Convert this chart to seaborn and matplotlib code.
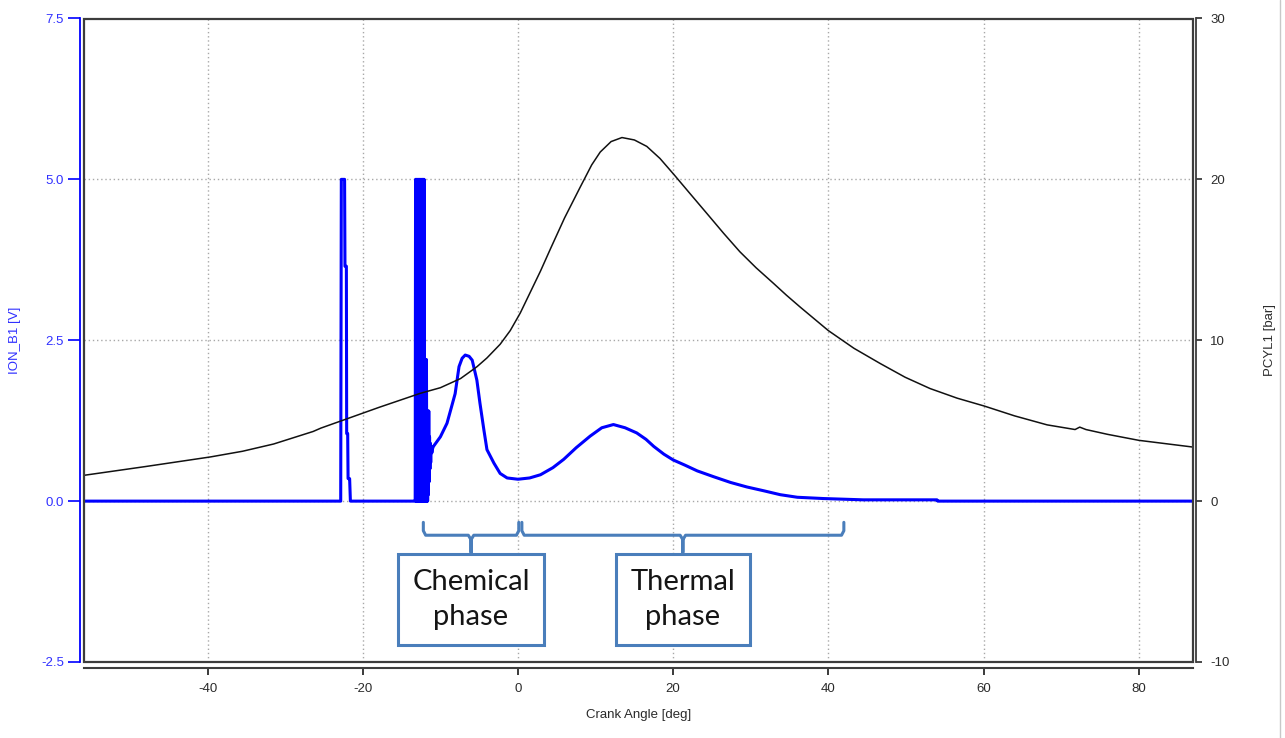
import numpy as np
import pandas as pd
import matplotlib
matplotlib.use("Agg")
import matplotlib.pyplot as plt
from matplotlib.patches import Rectangle
from matplotlib.lines import Line2D
import seaborn as sns

# ---------------- data ----------------
# cylinder pressure trace (bar) vs crank angle (deg)
pcyl_angle = [-56.0, -48.0, -39.6, -35.5, -31.5, -26.4, -25.4, -22.2, -17.9, -12.6,
              -10.0, -7.4, -5.3, -4.0, -2.3, -1.0, 0.3, 1.5, 2.9, 4.2,
              6.0, 8.0, 9.5, 10.6, 12.0, 13.4, 15.0, 16.6, 18.3, 20.1,
              22.2, 24.4, 26.5, 28.6, 30.7, 32.9, 34.6, 36.4, 40.0, 43.3,
              46.7, 49.9, 53.1, 56.6, 60.1, 64.0, 68.2, 71.8, 72.4, 73.2,
              76.0, 80.0, 87.0]
pcyl_bar = [1.60, 2.15, 2.75, 3.10, 3.55, 4.33, 4.54, 5.09, 5.83, 6.70,
            7.05, 7.62, 8.35, 8.90, 9.75, 10.60, 11.70, 12.90, 14.30, 15.70,
            17.60, 19.50, 20.90, 21.70, 22.35, 22.60, 22.45, 22.05, 21.30, 20.30,
            19.10, 17.85, 16.65, 15.50, 14.50, 13.55, 12.80, 12.05, 10.60, 9.50,
            8.55, 7.70, 7.00, 6.40, 5.91, 5.30, 4.74, 4.45, 4.60, 4.45,
            4.15, 3.78, 3.36]

# ion current signal (V): baseline and first spike
ion_pre_angle = [-56.0, -22.85, -22.77, -22.35, -22.30, -22.12, -22.08, -21.95,
                 -21.90, -21.70, -21.60, -13.30]
ion_pre_volts = [0.0, 0.0, 5.0, 5.0, 3.65, 3.65, 1.05, 1.05,
                 0.35, 0.35, 0.0, 0.0]

# ringing burst at the start of combustion
burst_angle = [-13.25, -13.20, -13.15, -13.10, -13.05, -13.00, -12.95, -12.90,
               -12.85, -12.80, -12.75, -12.70, -12.65, -12.60, -12.55, -12.50,
               -12.45, -12.40, -12.35, -12.30, -12.25, -12.20, -12.15, -12.10,
               -12.05, -12.00, -11.95, -11.90, -11.85, -11.80, -11.75, -11.70,
               -11.65, -11.60, -11.55, -11.50, -11.45, -11.40, -11.35, -11.30,
               -11.25, -11.20, -11.10, -11.00]
burst_volts = [0.0, 5.0, 0.0, 5.0, 0.0, 5.0, 0.0, 5.0,
               0.0, 5.0, 0.0, 5.0, 0.0, 5.0, 0.0, 5.0,
               0.0, 5.0, 0.0, 5.0, 0.0, 5.0, 0.0, 5.0,
               0.0, 2.2, 0.0, 2.2, 0.0, 2.2, 0.0, 1.4,
               0.0, 1.4, 0.1, 1.4, 0.3, 1.0, 0.5, 0.9,
               0.6, 0.85, 0.75, 0.82]

# chemical and thermal ionisation peaks
ion_post_angle = [-10.9, -10.0, -9.15, -8.6, -8.1, -7.6, -7.2, -6.8, -6.3, -5.9,
                  -5.3, -4.9, -4.4, -4.0, -3.1, -2.3, -1.4, 0.0, 1.5, 2.9,
                  4.5, 5.9, 7.5, 9.3, 10.8, 12.3, 13.8, 15.3, 16.5, 17.5,
                  18.8, 20.0, 21.5, 23.1, 25.2, 27.4, 29.5, 31.7, 33.8, 36.0,
                  39.4, 44.5, 54.0, 54.1, 87.0]
ion_post_volts = [0.85, 1.00, 1.21, 1.45, 1.67, 2.09, 2.22, 2.27, 2.25, 2.19,
                  1.88, 1.52, 1.11, 0.80, 0.59, 0.43, 0.36, 0.34, 0.36, 0.41,
                  0.52, 0.65, 0.83, 1.01, 1.14, 1.19, 1.14, 1.06, 0.96, 0.85,
                  0.73, 0.64, 0.56, 0.47, 0.38, 0.29, 0.22, 0.16, 0.10, 0.06,
                  0.04, 0.02, 0.02, 0.0, 0.0]

# combustion phases (crank angle ranges)
phase_labels = ["Chemical\nphase", "Thermal\nphase"]
phase_start = [-12.2, 0.5]
phase_end = [0.1, 42.0]

x_ticks = [-40, -20, 0, 20, 40, 60, 80]
ion_ticks = [-2.5, 0.0, 2.5, 5.0, 7.5]
ion_tick_labels = ["-2.5", "0.0", "2.5", "5.0", "7.5"]
pcyl_ticks = [-10, 0, 10, 20, 30]

# ---------------- styling ----------------
sns.set_style("white")
plt.rcParams["font.family"] = ["Liberation Sans", "DejaVu Sans"]

BLUE = "#0000ff"
BLUE_TXT = "#3030ff"
DARK = "#2b2b2b"
FRAME = "#3c3c3c"
GRID = "#a8a8a8"
BOX = "#4a7ebb"

W, H = 1285, 738
fig = plt.figure(figsize=(W / 100, H / 100), dpi=100)
fig.patch.set_facecolor("white")
left, right, top, bottom = 83.5, 1193.0, 18.5, 662.0
ax = fig.add_axes([left / W, 1 - bottom / H, (right - left) / W, (bottom - top) / H])
ax.set_facecolor("white")

ion_df = pd.DataFrame({
    "angle": ion_pre_angle + burst_angle + ion_post_angle,
    "volts": ion_pre_volts + burst_volts + ion_post_volts,
})
pcyl_df = pd.DataFrame({"angle": pcyl_angle, "bar": pcyl_bar})

ax.set_xlim(-56.0, 87.0)
ax.set_ylim(-2.5, 7.5)

# dotted grid
for xv in x_ticks:
    ax.axvline(xv, color=GRID, lw=1.0, ls=(0, (1, 2)), zorder=0)
for yv in [0.0, 2.5, 5.0]:
    ax.axhline(yv, color=GRID, lw=1.0, ls=(0, (1, 2)), zorder=0)

sns.lineplot(data=ion_df, x="angle", y="volts", ax=ax, color=BLUE, lw=2.2,
             estimator=None, sort=False, legend=False, zorder=3)

ax2 = ax.twinx()
ax2.set_ylim(-10, 30)
sns.lineplot(data=pcyl_df, x="angle", y="bar", ax=ax2, color="#111111", lw=1.1,
             estimator=None, sort=False, legend=False, zorder=4)
ax2.set_xlim(-56.0, 87.0)

# axes, ticks and labels
ax.set_xticks(x_ticks)
ax.set_xticklabels([str(v) for v in x_ticks])
ax.set_yticks(ion_ticks)
ax.set_yticklabels(ion_tick_labels)
ax2.set_yticks(pcyl_ticks)
ax2.set_yticklabels([str(v) for v in pcyl_ticks])

for s in ["top", "right"]:
    ax.spines[s].set_visible(False)
for s in ["top", "left", "bottom"]:
    ax2.spines[s].set_visible(False)
ax.spines["left"].set_color(BLUE)
ax.spines["left"].set_linewidth(1.3)
ax.spines["left"].set_position(("outward", 2.5))
ax.spines["bottom"].set_color(FRAME)
ax.spines["bottom"].set_linewidth(1.5)
ax.spines["bottom"].set_position(("outward", 4.3))
ax2.spines["right"].set_color(FRAME)
ax2.spines["right"].set_linewidth(1.3)
ax2.spines["right"].set_position(("outward", 2.2))

ax.tick_params(axis="y", colors=BLUE, labelcolor=BLUE_TXT, length=8.5, width=1.2,
               direction="out", pad=3, labelsize=9.5, left=True)
ax.tick_params(axis="x", colors=DARK, labelcolor=DARK, length=5, width=1.3,
               direction="out", pad=6, labelsize=9.5, bottom=True)
ax2.tick_params(axis="y", colors=DARK, labelcolor=DARK, length=4.3, width=1.2,
                direction="out", pad=6, labelsize=9.5, right=True)

ax.set_xlabel("Crank Angle [deg]", fontsize=9.5, color=DARK)
ax.xaxis.set_label_coords(0.5, -0.073)
ax.set_ylabel("ION_B1 [V]", fontsize=9.5, color=BLUE_TXT)
ax.yaxis.set_label_coords(-0.056, 0.5)
ax2.set_ylabel("PCYL1 [bar]", fontsize=9.5, color=DARK, rotation=90)
ax2.yaxis.set_label_coords(1.064, 0.5)

# plot frame
ax2.add_patch(Rectangle((0, 0), 1, 1, transform=ax2.transAxes, fill=False,
                        ec=FRAME, lw=1.6, clip_on=False, zorder=10))

# phase brackets with labelled boxes
y_end, y_bar, y_stem = -0.33, -0.53, -0.795
for label, s, e in zip(phase_labels, phase_start, phase_end):
    c = (s + e) / 2
    xs = [s, s, s + 0.3, c - 0.35, c, c, c, c + 0.35, e - 0.3, e, e]
    ys = [y_end, y_bar + 0.07, y_bar, y_bar, y_bar - 0.07, y_stem,
          y_bar - 0.07, y_bar, y_bar, y_bar + 0.07, y_end]
    ax.plot(xs, ys, color=BOX, lw=2.2, solid_joinstyle="round",
            solid_capstyle="round", zorder=5)
    ax.text(c, -1.53, label, ha="center", va="center", fontsize=21,
            family=["Lato", "DejaVu Sans"], color="#151515", linespacing=1.45,
            zorder=6,
            bbox=dict(boxstyle="square,pad=0.5", fc="white", ec=BOX, lw=2.2))

# thin window edge at right
fig.add_artist(Line2D([1279.5 / W, 1279.5 / W], [0, 1], transform=fig.transFigure,
                      color="#c8c8c8", lw=1.0))

fig.savefig("out.png", dpi=100)
